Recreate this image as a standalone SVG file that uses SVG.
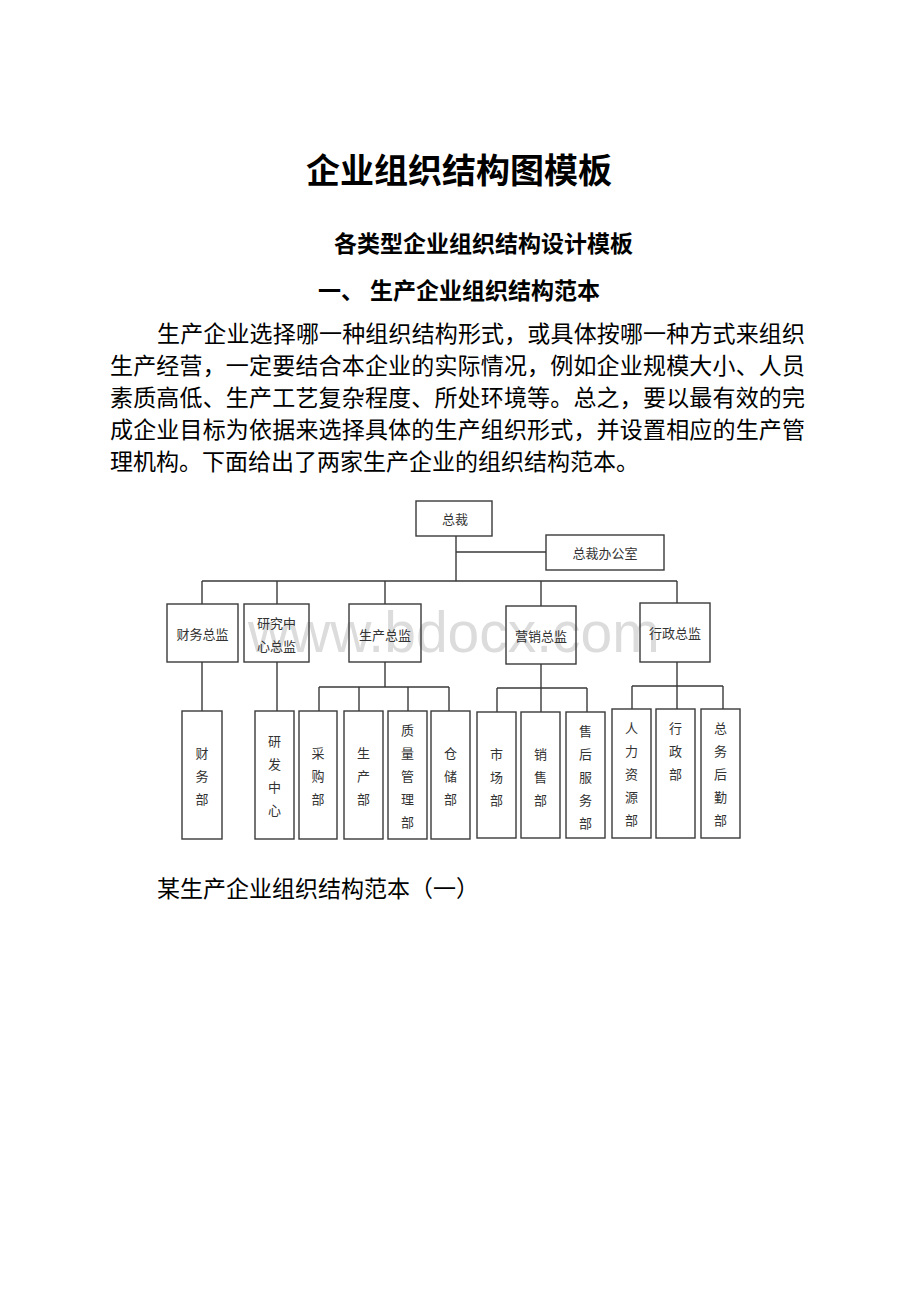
<svg xmlns="http://www.w3.org/2000/svg" width="920" height="1302" viewBox="0 0 920 1302">
<style>
.h{font-family:"Noto Sans CJK SC","Liberation Sans",sans-serif;fill:#000;font-weight:700}
.p{font-family:"Noto Sans CJK SC","Liberation Sans",sans-serif;fill:#000;font-size:23px}
.box{fill:none;stroke:#3a3a3a;stroke-width:1.4}
.ln{fill:none;stroke:#3a3a3a;stroke-width:1.4}
.t{font-family:"Noto Sans CJK SC","Liberation Sans",sans-serif;fill:#333;font-size:13px;text-anchor:middle;dominant-baseline:central}
.wm{font-family:"Liberation Sans",Arial,sans-serif;fill:#dcdcdc;font-size:57px}
</style>
<rect width="920" height="1302" fill="#fff"/>
<g id="header">
<text class="h" x="459" y="183" font-size="34" text-anchor="middle">企业组织结构图模板</text>
<text class="h" x="483.5" y="252" font-size="23" text-anchor="middle">各类型企业组织结构设计模板</text>
<text class="h" x="318" y="299" font-size="23">一、</text>
<text class="h" x="370" y="299" font-size="23">生产企业组织结构范本</text>
</g>
<g id="paragraph">
<text class="p" x="157" y="342" textLength="648" lengthAdjust="spacing">生产企业选择哪一种组织结构形式，或具体按哪一种方式来组织</text>
<text class="p" x="110" y="374" textLength="695" lengthAdjust="spacing">生产经营，一定要结合本企业的实际情况，例如企业规模大小、人员</text>
<text class="p" x="110" y="406" textLength="695" lengthAdjust="spacing">素质高低、生产工艺复杂程度、所处环境等。总之，要以最有效的完</text>
<text class="p" x="110" y="438" textLength="695" lengthAdjust="spacing">成企业目标为依据来选择具体的生产组织形式，并设置相应的生产管</text>
<text class="p" x="110" y="470">理机构。下面给出了两家生产企业的组织结构范本。</text>
</g>
<text id="watermark" class="wm" x="248" y="652">www.bdocx.com</text>
<g id="connectors">
<path class="ln" d="M456,536V581M456,552H546M202,581H677M202,581V604M277,581V604M385,581V604M541,581V606M677,581V603"/>
<path class="ln" d="M202,662V711M277,662V711"/>
<path class="ln" d="M385,662V687M319,687H449M319,687V711M359,687V711M408,687V711M449,687V711"/>
<path class="ln" d="M541,664V688M497,688H587M497,688V712M541,688V712M587,688V712"/>
<path class="ln" d="M677,662V686M632,686H723M632,686V709M677,686V709M723,686V709"/>
</g>
<g id="n-zongcai"><rect class="box" x="416" y="501" width="76" height="35"/><text class="t" x="455" y="518.5">总裁</text></g>
<g id="n-office"><rect class="box" x="546" y="535" width="118" height="35"/><text class="t" x="605" y="552">总裁办公室</text></g>
<g id="n-cwzj"><rect class="box" x="167" y="604" width="71" height="58"/><text class="t" x="202.5" y="633">财务总监</text></g>
<g id="n-yjzx"><rect class="box" x="244" y="604" width="65" height="58"/><text class="t" x="276.5" y="622">研究中</text><text class="t" x="276.5" y="645">心总监</text></g>
<g id="n-sczj"><rect class="box" x="349" y="604" width="72" height="58"/><text class="t" x="385" y="634">生产总监</text></g>
<g id="n-yxzj"><rect class="box" x="506" y="606" width="70" height="58"/><text class="t" x="541" y="635">营销总监</text></g>
<g id="n-xzzj"><rect class="box" x="640" y="603" width="70" height="59"/><text class="t" x="675" y="632">行政总监</text></g>
<g id="n-cwb"><rect class="box" x="182" y="711" width="40" height="128"/><text class="t"><tspan x="202" y="752">财</tspan><tspan x="202" y="775">务</tspan><tspan x="202" y="798">部</tspan></text></g>
<g id="n-yfzx"><rect class="box" x="255" y="711" width="39" height="128"/><text class="t"><tspan x="274.5" y="740">研</tspan><tspan x="274.5" y="763">发</tspan><tspan x="274.5" y="786">中</tspan><tspan x="274.5" y="809">心</tspan></text></g>
<g id="n-cgb"><rect class="box" x="299" y="711" width="38" height="128"/><text class="t"><tspan x="318" y="752">采</tspan><tspan x="318" y="775">购</tspan><tspan x="318" y="798">部</tspan></text></g>
<g id="n-scb"><rect class="box" x="344" y="711" width="39" height="128"/><text class="t"><tspan x="363.5" y="752">生</tspan><tspan x="363.5" y="775">产</tspan><tspan x="363.5" y="798">部</tspan></text></g>
<g id="n-zlglb"><rect class="box" x="388" y="711" width="39" height="128"/><text class="t"><tspan x="407.5" y="729">质</tspan><tspan x="407.5" y="752">量</tspan><tspan x="407.5" y="775">管</tspan><tspan x="407.5" y="798">理</tspan><tspan x="407.5" y="821">部</tspan></text></g>
<g id="n-ccb"><rect class="box" x="431" y="711" width="39" height="128"/><text class="t"><tspan x="450.5" y="752">仓</tspan><tspan x="450.5" y="775">储</tspan><tspan x="450.5" y="798">部</tspan></text></g>
<g id="n-scb2"><rect class="box" x="477" y="712" width="39" height="126"/><text class="t"><tspan x="496.5" y="753">市</tspan><tspan x="496.5" y="776">场</tspan><tspan x="496.5" y="799">部</tspan></text></g>
<g id="n-xsb"><rect class="box" x="521" y="712" width="39" height="126"/><text class="t"><tspan x="540.5" y="753">销</tspan><tspan x="540.5" y="776">售</tspan><tspan x="540.5" y="799">部</tspan></text></g>
<g id="n-shfwb"><rect class="box" x="566" y="712" width="39" height="126"/><text class="t"><tspan x="585.5" y="730">售</tspan><tspan x="585.5" y="753">后</tspan><tspan x="585.5" y="776">服</tspan><tspan x="585.5" y="799">务</tspan><tspan x="585.5" y="822">部</tspan></text></g>
<g id="n-rlzyb"><rect class="box" x="612" y="709" width="39" height="129"/><text class="t"><tspan x="631.5" y="727">人</tspan><tspan x="631.5" y="750">力</tspan><tspan x="631.5" y="773">资</tspan><tspan x="631.5" y="796">源</tspan><tspan x="631.5" y="819">部</tspan></text></g>
<g id="n-xzb"><rect class="box" x="656" y="709" width="39" height="129"/><text class="t"><tspan x="675.5" y="727">行</tspan><tspan x="675.5" y="750">政</tspan><tspan x="675.5" y="773">部</tspan></text></g>
<g id="n-zwhqb"><rect class="box" x="701" y="709" width="39" height="129"/><text class="t"><tspan x="720.5" y="727">总</tspan><tspan x="720.5" y="750">务</tspan><tspan x="720.5" y="773">后</tspan><tspan x="720.5" y="796">勤</tspan><tspan x="720.5" y="819">部</tspan></text></g>
<text id="caption" class="p" x="157" y="897">某生产企业组织结构范本（一）</text>
</svg>
